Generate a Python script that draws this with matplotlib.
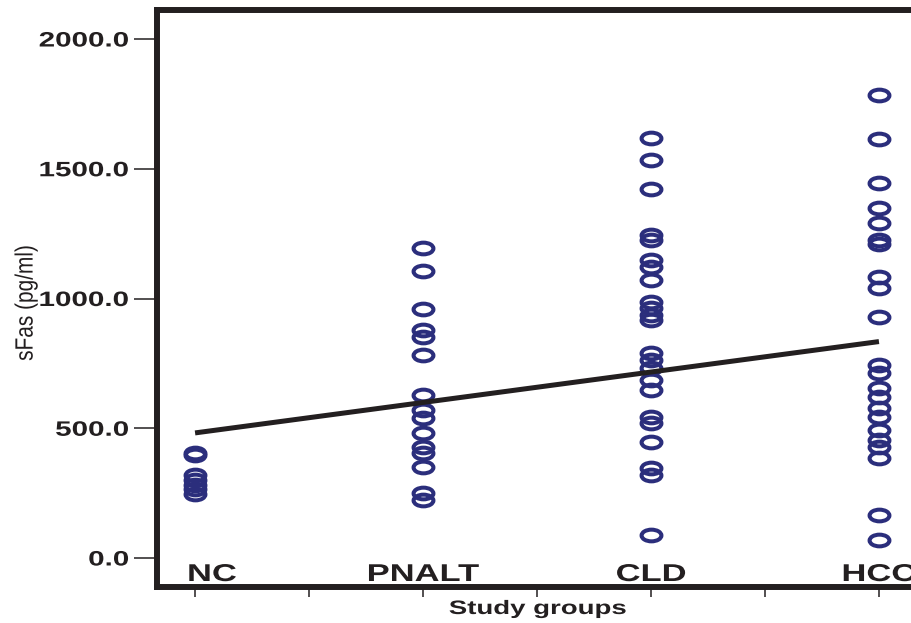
import numpy as np
import matplotlib
matplotlib.use("Agg")
import matplotlib.pyplot as plt
from matplotlib.path import Path
from matplotlib.transforms import Affine2D, blended_transform_factory, offset_copy
from matplotlib import patheffects

# ---- data -------------------------------------------------------------
groups = ["NC", "PNALT", "CLD", "HCC"]
group_pos = [1, 2, 3, 4]

nc_values = [405, 395, 318, 300, 282, 265, 248]
pnalt_values = [1193, 1107, 958, 879, 853, 782, 628, 570, 538, 481,
                429, 403, 352, 250, 222]
cld_values = [1617, 1534, 1421, 1245, 1225, 1148, 1123, 1071, 988, 962,
              936, 917, 789, 763, 731, 686, 647, 545, 519, 448, 346, 320, 89]
hcc_values = [1784, 1613, 1444, 1348, 1290, 1225, 1210, 1084, 1039, 930,
              744, 712, 654, 622, 577, 545, 493, 455, 429, 384, 166, 69]
series = [nc_values, pnalt_values, cld_values, hcc_values]

# linear trend across the groups (value at first and last group)
trend_x = [1, 4]
trend_y = [482, 834]

y_ticks = [0, 500, 1000, 1500, 2000]
y_tick_labels = ["0.0", "500.0", "1000.0", "1500.0", "2000.0"]
x_ticks = [1, 1.5, 2, 2.5, 3, 3.5, 4, 4.5]

# ---- style ------------------------------------------------------------
INK = "#231F20"
NAVY = "#2B2E7C"
FONT = ["Liberation Sans", "DejaVu Sans"]
WIDE = 1.42


class HStretch(patheffects.AbstractPathEffect):
    """Draw text glyphs widened horizontally about an anchor."""

    def __init__(self, factor, anchor="center"):
        super().__init__()
        self.factor = factor
        self.anchor = anchor

    def draw_path(self, renderer, gc, tpath, affine, rgbFace=None):
        ext = tpath.get_extents(affine)
        cx = {"center": 0.5 * (ext.x0 + ext.x1),
              "right": ext.x1, "left": ext.x0}[self.anchor]
        widened = affine + Affine2D().translate(-cx, 0).scale(self.factor, 1).translate(cx, 0)
        renderer.draw_path(gc, tpath, widened, rgbFace)


W, H = 911, 623
fig = plt.figure(figsize=(W / 100, H / 100), dpi=100)
fig.patch.set_facecolor("white")

ax_left, ax_right, ax_top, ax_bottom = 157, 1000, 10, 587
ax = fig.add_axes([ax_left / W, (H - ax_bottom) / H,
                   (ax_right - ax_left) / W, (ax_bottom - ax_top) / H])
ax.set_xlim(0.833, 4.531)
ax.set_ylim(-111.8, 2111.8)

for side in ("left", "top", "bottom"):
    ax.spines[side].set_linewidth(4.3)
    ax.spines[side].set_color(INK)
ax.spines["right"].set_visible(False)

# open elliptical markers
ellipse = Path.unit_circle().transformed(Affine2D().scale(1.7, 1.0))

for pos, vals in zip(group_pos, series):
    ax.plot(np.full(len(vals), pos), vals, linestyle="none", marker=ellipse,
            markersize=14.3, markerfacecolor="none", markeredgecolor=NAVY,
            markeredgewidth=2.9, zorder=3)

ax.plot(trend_x, trend_y, color=INK, linewidth=3.6, solid_capstyle="butt", zorder=4)

# y axis
ax.set_yticks(y_ticks)
ax.set_yticklabels(y_tick_labels)
ax.tick_params(axis="y", direction="out", length=16.6, width=1.1, color=INK,
               pad=3.6, labelsize=15, labelcolor=INK)
for lab in ax.get_yticklabels():
    lab.set_fontfamily(FONT)
    lab.set_fontweight("bold")
    lab.set_path_effects([HStretch(WIDE, "right")])

# x axis: plain ticks, group names written inside the frame
ax.set_xticks(x_ticks)
ax.set_xticklabels([])
ax.tick_params(axis="x", direction="out", length=7.2, width=1.1, color=INK)

label_tr = blended_transform_factory(ax.transData, ax.transAxes)
for pos, name in zip(group_pos, groups):
    tr = label_tr
    if pos == group_pos[0]:
        tr = offset_copy(label_tr, fig=fig, x=17, y=0, units="dots")
    ax.text(pos, 0.0104, name, transform=tr, ha="center", va="baseline",
            fontsize=17.5, fontweight="bold", family=FONT, color=INK,
            path_effects=[HStretch(WIDE, "center")], zorder=5)

fig.text(538 / W, (H - 614) / H, "Study groups", ha="center", va="baseline",
         fontsize=14, fontweight="bold", family=FONT, color=INK,
         path_effects=[HStretch(WIDE, "center")])

fig.text(26 / W, 1 - 303 / H, "sFas (pg/ml)", rotation=90, ha="center",
         va="center", fontsize=15, family=FONT, color=INK,
         path_effects=[HStretch(1.2, "center")])

fig.savefig("out.png", dpi=100)
